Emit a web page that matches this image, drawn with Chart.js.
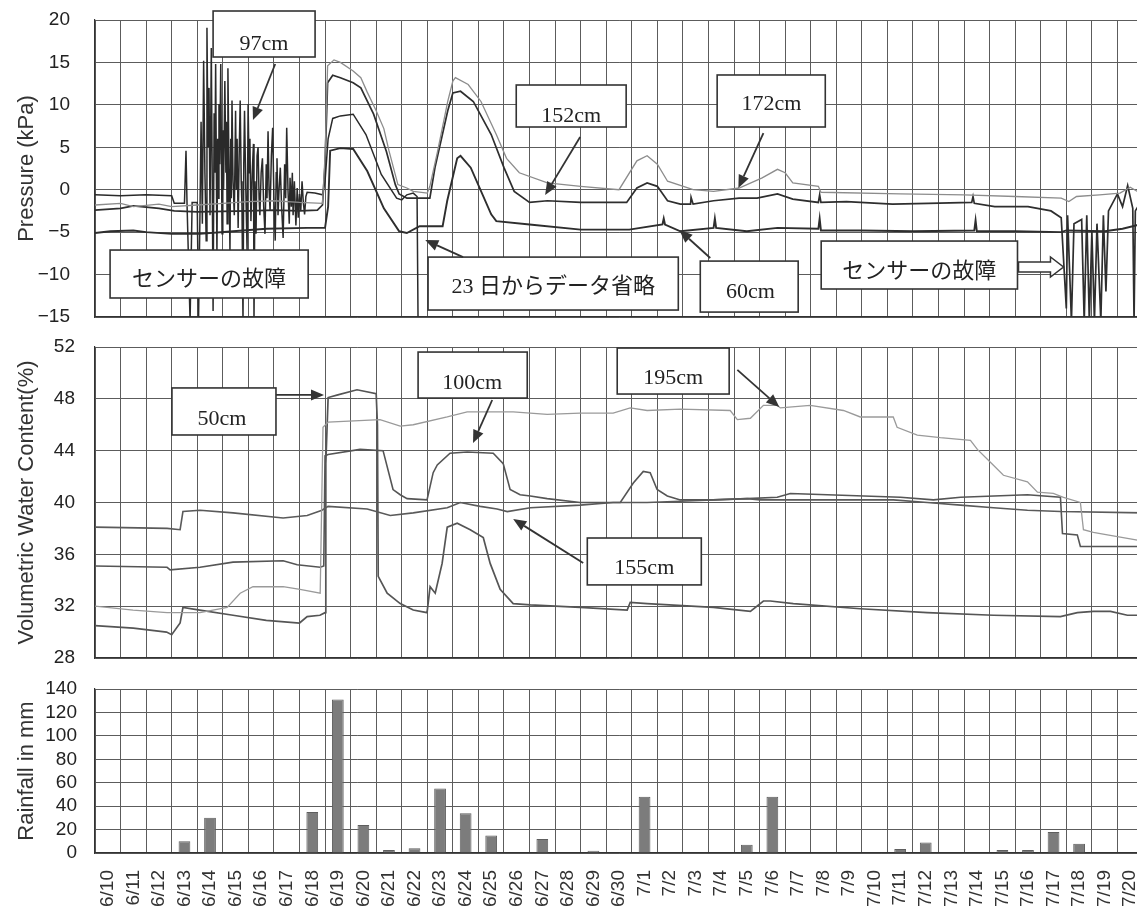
<!DOCTYPE html>
<html>
<head>
<meta charset="utf-8">
<script src="https://cdn.jsdelivr.net/npm/chart.js@4.4.1/dist/chart.umd.min.js"></script>
<style>
html, body { margin: 0; padding: 0; background: #fff; overflow: hidden; }
#wrap { position: relative; width: 1137px; height: 918px; overflow: hidden; background: #fff; }
canvas { position: absolute; left: 0; }
</style>
</head>
<body>
<div id="wrap">
  <canvas id="pressure" width="1143" height="330" style="top:0px"></canvas>
  <canvas id="water" width="1143" height="340" style="top:330px"></canvas>
  <canvas id="rain" width="1143" height="248" style="top:670px"></canvas>
</div>
<script>
// 日付 (6/10 ～ 7/20)
const days = ["6/10", "6/11", "6/12", "6/13", "6/14", "6/15", "6/16", "6/17", "6/18", "6/19",
    "6/20", "6/21", "6/22", "6/23", "6/24", "6/25", "6/26", "6/27", "6/28", "6/29", "6/30",
    "7/1", "7/2", "7/3", "7/4", "7/5", "7/6", "7/7", "7/8", "7/9", "7/10",
    "7/11", "7/12", "7/13", "7/14", "7/15", "7/16", "7/17", "7/18", "7/19", "7/20"];

// 日雨量 (mm)
const rainfall = [0, 0, 0, 10, 30, 0, 0, 0, 35, 131, 24, 2.5, 4, 55, 34, 15, 0, 12, 0, 2, 0,
    48, 0, 0, 0, 7, 48, 0, 0, 0, 0, 3.5, 9, 0, 0, 2.5, 2.5, 18, 8, 0, 0];

// 目盛
const pressureTicks = [-15, -10, -5, 0, 5, 10, 15, 20];
const waterTicks = [28, 32, 36, 40, 44, 48, 52];
const rainTicks = [0, 20, 40, 60, 80, 100, 120, 140];

// 間隙水圧 (kPa)  [6/10 からの日数, 値]
const p172 = [[0, -1.8], [1, -1.6], [1.5, -2.0], [2.5, -1.7], [3, -2.0], [4, -1.8], [5, -1.6], [6, -1.4],
    [7, -1.3], [8, -1.5], [8.9, -1.6], [9.0, 4], [9.1, 14.6], [9.35, 15.3], [9.6, 15.0], [10.1, 14.0],
    [10.4, 13.2], [10.65, 11.5], [11.0, 9.3], [11.3, 7.2], [11.5, 4.6], [11.85, 0.6], [12.2, 0.2],
    [12.45, -0.2], [13.0, -0.4], [13.1, 0.4], [13.4, 4.5], [13.8, 10.4], [14.0, 12.8], [14.1, 13.2],
    [14.6, 12.4], [15.1, 10.4], [15.7, 6.5], [16.1, 3.7], [16.6, 2.0], [17.7, 0.8], [19.0, 0.4],
    [20.5, 0.0], [21.2, 3.4], [21.6, 4.0], [22.0, 3.0], [22.4, 1.0], [23.4, 0.0], [24.2, -0.2],
    [25.2, 0.2], [26.1, 1.4], [26.7, 2.4], [27.0, 2.0], [27.3, 0.8], [28.3, 0.4], [28.4, -0.3],
    [31.5, -0.5], [34, -0.6], [36, -0.8], [37.8, -1.0], [38.1, -1.4], [38.4, -0.8], [39.3, -0.6],
    [40.1, -0.4], [40.5, 0.3], [41, -0.6]];

const p152 = [[0, -2.4], [1, -2.2], [1.5, -1.9], [2.5, -2.2], [3.1, -2.5], [4, -2.6], [6, -2.5], [7, -2.4],
    [8, -2.5], [8.7, -2.4], [8.9, -1.8], [9.0, 3], [9.1, 12.6], [9.3, 13.5], [9.6, 13.2], [10.1, 12.6],
    [10.4, 12.0], [10.9, 8.9], [11.4, 4.5], [11.75, 0.6], [11.9, -0.5], [12.2, -1.0], [12.6, -1.0],
    [13.1, -1.0], [13.3, 2.6], [13.8, 9.3], [14.0, 11.4], [14.3, 11.6], [14.8, 10.4], [15.5, 6.5],
    [16.0, 2.6], [16.4, -0.2], [17.0, -1.5], [17.7, -1.3], [19.0, -1.5], [20.8, -1.5], [21.2, 0.2],
    [21.6, 0.8], [22.0, 0.4], [22.4, -1.3], [22.9, -1.7], [23.3, -1.7], [23.32, -0.9], [23.4, -1.7],
    [24.2, -1.3], [25.2, -1.0], [25.9, -1.0], [26.7, -0.5], [27.3, -1.1], [28.3, -1.5], [28.35, -0.6],
    [28.4, -1.5], [29.4, -1.4], [31.2, -1.7], [32.6, -1.6], [34.3, -1.5], [34.35, -0.8], [34.4, -1.6],
    [35.2, -2.0], [36.5, -2.0], [37.4, -2.5], [37.8, -3.3], [38.0, -14], [38.05, -3], [38.2, -15.5],
    [38.3, -4], [38.6, -3.5], [38.7, -15.5], [38.8, -3], [38.9, -15.5], [39.0, -5], [39.1, -15.5],
    [39.2, -4], [39.35, -15.5], [39.45, -3], [39.55, -12], [39.65, -2.5], [40.0, -0.5], [40.2, -2],
    [40.4, 0.5], [40.6, -2.2], [40.65, -15.5], [40.7, -2.5], [40.8, -2.0], [41, -1.8]];

const p97 = [[0, -0.6], [1, -0.7], [2, -0.6], [3.0, -0.7], [3.1, -1.6], [3.5, -1.6], [3.56, 4.6], [3.6, -1.6],
    [3.72, -15.5], [3.8, -1.5], [4.0, -1.5], [4.05, -15.5], [4.11, -2], [4.15, 8], [4.2, -4], [4.25, 15.2],
    [4.3, 2], [4.35, -6.0], [4.38, 19.1], [4.42, 5], [4.46, 12], [4.5, -3], [4.55, 16.7], [4.58, 4],
    [4.62, -14.3], [4.66, 9], [4.69, 2], [4.72, 14.8], [4.77, -7.6], [4.8, 6], [4.83, -1], [4.85, 10.1],
    [4.88, 3], [4.92, 14.8], [4.97, -5.2], [5.0, 7], [5.03, 0], [5.08, 12.8], [5.12, 2], [5.14, 8],
    [5.17, -4], [5.2, 14.3], [5.24, 3], [5.28, -7.2], [5.31, 6], [5.33, -1], [5.36, 10.5], [5.4, 1],
    [5.45, -3], [5.5, 9.3], [5.53, 0], [5.56, 6], [5.6, -4.5], [5.64, 4], [5.68, 10.5], [5.72, 1],
    [5.75, -2], [5.79, -15.5], [5.82, 3], [5.85, 9.3], [5.9, 0], [5.95, -7.2], [5.99, 10.1], [6.03, 2],
    [6.06, 6], [6.1, -3.7], [6.15, 2], [6.2, 5.4], [6.22, -15.5], [6.26, 1], [6.3, -5.2], [6.34, 4],
    [6.38, 5], [6.42, -1], [6.45, -3], [6.5, 2], [6.55, 3.7], [6.6, -2], [6.65, -5.2], [6.7, 3],
    [6.73, -1], [6.77, 6.9], [6.81, 0], [6.85, -2.5], [6.9, 4], [6.95, 7.3], [7.0, -1], [7.05, -6.0],
    [7.09, 2], [7.12, 3.7], [7.16, -3], [7.2, 0], [7.25, 2.6], [7.3, -2], [7.36, -5.7], [7.42, 3],
    [7.46, -1], [7.5, 7.3], [7.55, 0], [7.6, -4], [7.63, 1.4], [7.68, -2], [7.72, 2], [7.75, -3],
    [7.8, 1], [7.86, -4.2], [7.91, 0.2], [7.95, -3.3], [8.0, -0.5], [8.05, -2.5], [8.1, 1.0],
    [8.15, -1.5], [8.2, -2.9], [8.25, -0.8], [8.3, -0.3], [8.6, -0.4], [8.9, -0.6], [9.0, 1],
    [9.12, 6], [9.3, 8.4], [9.6, 8.7], [10.1, 8.9], [10.6, 6.5], [11.2, 1.8], [11.8, -1.0], [12.0, -1.2],
    [12.2, -0.6], [12.45, -0.4], [12.6, -0.8], [12.64, -16]];

const p60 = [[0, -5.1], [0.6, -4.9], [1.5, -4.8], [2, -5.0], [3.0, -5.2], [4.1, -5.2], [5.4, -4.9], [6.7, -4.6],
    [8.3, -4.5], [9.0, -4.5], [9.12, -2], [9.2, 4.6], [9.6, 4.9], [10.1, 4.8], [10.65, 2.2], [11.3, -2.2],
    [11.9, -4.9], [12.2, -5.1], [12.7, -4.3], [13.6, -4.3], [13.78, -1.3], [14.17, 3.7], [14.3, 4.0],
    [14.7, 2.6], [15.5, -2.9], [15.7, -3.7], [17.0, -4.1], [19.0, -4.7], [20.9, -4.7], [22.2, -4.1],
    [22.25, -3.4], [22.3, -4.1], [22.9, -4.9], [24.2, -4.5], [24.25, -3.4], [24.3, -4.5], [25.5, -4.9],
    [26.7, -4.5], [28.3, -4.6], [28.35, -3.4], [28.4, -4.8], [30, -4.8], [32, -4.9], [34.4, -4.8],
    [34.45, -3.6], [34.5, -4.9], [36, -4.9], [37.8, -5.0], [38.0, -4.8], [39.5, -4.9], [40.2, -4.6],
    [41, -4.0]];

// 体積含水率 (%)
const w50 = [[0, 30.5], [1.5, 30.3], [2.8, 30.0], [3.0, 29.8], [3.33, 30.7], [3.44, 31.9], [4.1, 31.7],
    [5.4, 31.3], [6.7, 30.9], [8.0, 30.7], [8.3, 31.2], [8.8, 31.3], [9.0, 31.5], [9.03, 43.0],
    [9.12, 48.1], [9.5, 48.3], [10.25, 48.7], [11.0, 48.4], [11.05, 46], [11.08, 34.3], [11.43, 33.0],
    [11.94, 32.2], [12.45, 31.7], [12.99, 31.5], [13.11, 33.5], [13.31, 33.0], [13.58, 35.3],
    [13.78, 38.1], [14.17, 38.4], [14.68, 37.9], [15.19, 37.3], [15.46, 35.3], [15.85, 33.3],
    [16.36, 32.2], [17.03, 32.1], [18.98, 31.9], [20.82, 31.7], [20.94, 32.3], [21.6, 32.2],
    [24.19, 31.9], [25.64, 31.6], [26.15, 32.4], [26.42, 32.4], [27.32, 32.2], [29.94, 31.8],
    [32.56, 31.5], [35.15, 31.3], [37.77, 31.2], [38.43, 31.5], [39.06, 31.6], [39.73, 31.6],
    [40.39, 31.3], [41, 31.3]];

const w100 = [[0, 35.1], [2.82, 35.0], [2.94, 34.8], [4.11, 35.0], [5.4, 35.4], [7.36, 35.5], [7.91, 35.2],
    [8.81, 35.0], [8.95, 35.1], [9.0, 43.6], [9.12, 43.7], [10.37, 44.1], [11.27, 44.0], [11.66, 41.0],
    [11.94, 40.6], [12.21, 40.3], [12.99, 40.2], [13.23, 42.3], [13.39, 42.9], [13.89, 43.8],
    [14.56, 43.9], [15.58, 43.8], [15.97, 43.0], [16.24, 41.0], [16.63, 40.6], [17.03, 40.5],
    [17.69, 40.3], [18.98, 40.0], [20.55, 40.0], [21.06, 41.5], [21.45, 42.4], [21.72, 42.3],
    [21.99, 41.0], [22.39, 40.5], [22.9, 40.2], [24.19, 40.2], [25.52, 40.3], [26.69, 40.4],
    [27.2, 40.7], [28.65, 40.6], [31.51, 40.4], [32.8, 40.2], [33.86, 40.4], [36.48, 40.6],
    [37.77, 40.4], [37.85, 37.6], [38.43, 37.5], [38.55, 36.6], [41, 36.6]];

const w155 = [[0, 38.1], [2.82, 38.0], [3.33, 37.9], [3.44, 39.3], [4.11, 39.4], [5.4, 39.2], [7.36, 38.8],
    [8.3, 39.0], [8.88, 39.4], [9.12, 39.7], [10.65, 39.5], [11.55, 39.0], [12.45, 39.2], [13.78, 39.6],
    [14.29, 40.0], [15.07, 39.7], [15.73, 39.5], [16.13, 39.3], [17.03, 39.6], [18.98, 39.8],
    [20.27, 40.0], [21.6, 40.0], [22.9, 40.1], [24.19, 40.2], [25.52, 40.3], [26.03, 40.2],
    [28.65, 40.2], [31.23, 40.2], [32.56, 40.0], [33.86, 39.8], [35.15, 39.6], [36.48, 39.4],
    [37.77, 39.3], [41, 39.2]];

const w195 = [[0, 32.0], [1.49, 31.7], [2.82, 31.5], [4.11, 31.5], [5.17, 31.9], [5.68, 33.0], [6.18, 33.5],
    [7.36, 33.5], [8.02, 33.3], [8.81, 33.0], [8.92, 45.8], [9.12, 46.2], [11.15, 46.4], [11.94, 45.9],
    [12.45, 46.0], [13.78, 46.6], [14.56, 47.0], [16.36, 47.0], [17.69, 46.8], [18.98, 46.9],
    [20.27, 46.9], [20.94, 47.3], [21.6, 47.1], [22.9, 47.2], [24.85, 47.1], [25.13, 46.4],
    [25.64, 46.5], [26.15, 47.5], [26.69, 47.5], [26.81, 47.3], [27.98, 47.5], [29.28, 47.1],
    [29.94, 46.6], [31.23, 46.6], [31.38, 45.8], [32.17, 45.2], [33.07, 45.0], [34.25, 44.8],
    [34.52, 44.1], [35.03, 43.1], [35.54, 42.1], [36.48, 41.6], [36.87, 40.8], [37.49, 40.7],
    [37.89, 40.4], [38.55, 40.0], [38.67, 37.9], [39.06, 37.7], [39.33, 37.6], [40.78, 37.1],
    [41, 37.0]];

const toXY = (arr) => arr.map((p) => ({ x: p[0], y: p[1] }));

// 注記 (ボックス・矢印) を描くプラグイン
const notesPlugin = {
    id: "notes",
    afterDatasetsDraw(chart, args, opts) {
        const ctx = chart.ctx;
        const X = (v) => chart.scales.x.getPixelForValue(v);
        const Y = (v) => chart.scales.y.getPixelForValue(v);
        ctx.save();
        (opts.items || []).forEach((n) => {
            const x1 = X(n.box[0]), y1 = Y(n.box[1]), x2 = X(n.box[2]), y2 = Y(n.box[3]);
            ctx.fillStyle = "#fff";
            ctx.fillRect(x1, y1, x2 - x1, y2 - y1);
            ctx.strokeStyle = "#333";
            ctx.lineWidth = 1.6;
            ctx.strokeRect(x1, y1, x2 - x1, y2 - y1);
            ctx.fillStyle = "#222";
            ctx.font = '22px "Liberation Serif", "Noto Sans CJK JP", serif';
            ctx.textAlign = "center";
            ctx.textBaseline = "middle";
            ctx.fillText(n.text, X(n.at[0]), Y(n.at[1]));

            if (n.arrow) {
                const ax = X(n.arrow[0]), ay = Y(n.arrow[1]), bx = X(n.arrow[2]), by = Y(n.arrow[3]);
                const ang = Math.atan2(by - ay, bx - ax);
                const hl = 13, hw = 5.5;
                const hx = bx - hl * Math.cos(ang), hy = by - hl * Math.sin(ang);
                ctx.strokeStyle = "#333";
                ctx.lineWidth = 1.8;
                ctx.beginPath();
                ctx.moveTo(ax, ay);
                ctx.lineTo(hx, hy);
                ctx.stroke();
                ctx.fillStyle = "#333";
                ctx.beginPath();
                ctx.moveTo(bx, by);
                ctx.lineTo(hx + hw * Math.sin(ang), hy - hw * Math.cos(ang));
                ctx.lineTo(hx - hw * Math.sin(ang), hy + hw * Math.cos(ang));
                ctx.closePath();
                ctx.fill();
            }

            if (n.hollow) {
                const sx = X(n.hollow[0]), hx = X(n.hollow[1]), ex = X(n.hollow[2]), cy = Y(n.hollow[3]);
                ctx.fillStyle = "#fff";
                ctx.strokeStyle = "#333";
                ctx.lineWidth = 1.5;
                ctx.beginPath();
                ctx.moveTo(sx, cy - 5);
                ctx.lineTo(hx, cy - 5);
                ctx.lineTo(hx, cy - 10);
                ctx.lineTo(ex, cy);
                ctx.lineTo(hx, cy + 10);
                ctx.lineTo(hx, cy + 5);
                ctx.lineTo(sx, cy + 5);
                ctx.closePath();
                ctx.fill();
                ctx.stroke();
            }
        });
        ctx.restore();
    },
};

const gridColor = "#5c5c5c";
const tickFont = { family: '"Liberation Sans", Arial, sans-serif', size: 19 };
const titleFont = { family: '"Liberation Sans", Arial, sans-serif', size: 22 };

// 軸の余白を固定する (ラベル分の自動パディングを消す)
function fixY(s) {
    s.width = 95;
    s.paddingTop = 0;
    s.paddingBottom = 0;
}

function lineDataset(label, data, color, width) {
    return {
        label: label,
        data: toXY(data),
        borderColor: color,
        borderWidth: width,
        pointRadius: 0,
        tension: 0,
        fill: false,
    };
}

function lineOptions(ticks, title, tickPad, padding, notes, fmt) {
    return {
        responsive: false,
        animation: false,
        layout: { padding: padding },
        plugins: { legend: { display: false }, tooltip: { enabled: false }, notes: { items: notes } },
        scales: {
            x: {
                type: "linear",
                min: 0,
                max: 41,
                ticks: { display: false, stepSize: 1 },
                grid: { color: gridColor, lineWidth: 1, drawTicks: false },
                border: { display: true, color: "#333", width: 1.2 },
                afterFit: (s) => { s.height = 0; s.paddingLeft = 0; s.paddingRight = 0; },
            },
            y: {
                min: ticks[0],
                max: ticks[ticks.length - 1],
                afterBuildTicks: (s) => { s.ticks = ticks.map((v) => ({ value: v })); },
                ticks: {
                    color: "#222",
                    font: tickFont,
                    padding: tickPad,
                    autoSkip: false,
                    callback: fmt,
                },
                grid: { color: gridColor, lineWidth: 1, drawTicks: false },
                border: { display: true, color: "#333", width: 1.2 },
                title: { display: true, text: title, color: "#333", font: titleFont, padding: { top: 14, bottom: 0 } },
                afterFit: fixY,
            },
        },
    };
}

window.addEventListener("DOMContentLoaded", () => {
    // 間隙水圧
    new Chart(document.getElementById("pressure"), {
        type: "line",
        data: {
            datasets: [
                lineDataset("172cm", p172, "#8c8c8c", 1.3),
                lineDataset("152cm", p152, "#2e2e2e", 1.7),
                lineDataset("97cm", p97, "#2a2a2a", 1.5),
                lineDataset("60cm", p60, "#2e2e2e", 1.9),
            ],
        },
        options: lineOptions(pressureTicks, "Pressure (kPa)", 25, { top: 20, right: 0, bottom: 13, left: 0 }, [
            { box: [4.62, 21.06, 8.61, 15.64], text: "97cm", at: [6.61, 17.17], arrow: [7.05, 14.81, 6.18, 8.21] },
            { box: [0.59, -7.11, 8.34, -12.76], text: "センサーの故障", at: [4.46, -10.64] },
            { box: [16.48, 12.34, 20.78, 7.39], text: "152cm", at: [18.63, 8.68], arrow: [18.98, 6.21, 17.61, -0.62] },
            { box: [24.34, 13.52, 28.57, 7.39], text: "172cm", at: [26.46, 10.1], arrow: [26.15, 6.68, 25.17, 0.2] },
            { box: [13.03, -7.94, 22.82, -14.18], text: "23 日からデータ省略", at: [17.93, -11.47], arrow: [14.4, -7.94, 12.92, -5.93] },
            { box: [23.68, -8.41, 27.51, -14.42], text: "60cm", at: [25.64, -12.06], arrow: [24.07, -8.05, 22.86, -4.75] },
            { box: [28.41, -6.05, 36.09, -11.7], text: "センサーの故障", at: [32.25, -9.7], hollow: [36.13, 37.38, 37.89, -9.11] },
        ], (v) => (v < 0 ? "\u2212" + Math.abs(v) : String(v))),
        plugins: [notesPlugin],
    });

    // 体積含水率
    new Chart(document.getElementById("water"), {
        type: "line",
        data: {
            datasets: [
                lineDataset("195cm", w195, "#9a9a9a", 1.3),
                lineDataset("155cm", w155, "#5a5a5a", 1.6),
                lineDataset("100cm", w100, "#555555", 1.6),
                lineDataset("50cm", w50, "#555555", 1.7),
            ],
        },
        options: lineOptions(waterTicks, "Volumetric Water Content(%)", 20, { top: 17, right: 0, bottom: 12, left: 0 }, [
            { box: [3.01, 48.84, 7.08, 45.21], text: "50cm", at: [4.97, 46.44], arrow: [7.08, 48.3, 8.96, 48.3] },
            { box: [12.64, 51.61, 16.91, 48.06], text: "100cm", at: [14.76, 49.22], arrow: [15.54, 47.91, 14.79, 44.59] },
            { box: [20.43, 51.92, 24.81, 48.37], text: "195cm", at: [22.62, 49.61], arrow: [25.13, 50.23, 26.77, 47.37] },
            { box: [19.26, 37.26, 23.72, 33.64], text: "155cm", at: [21.49, 34.95], arrow: [19.1, 35.33, 16.36, 38.73] },
        ], (v) => String(v)),
        plugins: [notesPlugin],
    });

    // 雨量
    new Chart(document.getElementById("rain"), {
        type: "bar",
        data: {
            labels: days,
            datasets: [{
                label: "Rainfall",
                data: rainfall,
                backgroundColor: "#7c7c7c",
                borderColor: "#5e5e5e",
                borderWidth: 1,
                barPercentage: 0.46,
                categoryPercentage: 1,
            }],
        },
        options: {
            responsive: false,
            animation: false,
            layout: { padding: { top: 19, right: 0, bottom: 0, left: 0 } },
            plugins: { legend: { display: false }, tooltip: { enabled: false } },
            scales: {
                x: {
                    ticks: { color: "#333", font: tickFont, minRotation: 90, maxRotation: 90, autoSkip: false, padding: 17 },
                    grid: { color: gridColor, lineWidth: 1, drawTicks: false, offset: true },
                    border: { display: true, color: "#333", width: 1.2 },
                    afterFit: (s) => { s.height = 65; s.paddingLeft = 0; s.paddingRight = 0; },
                },
                y: {
                    min: 0,
                    max: 140,
                    afterBuildTicks: (s) => { s.ticks = rainTicks.map((v) => ({ value: v })); },
                    ticks: { color: "#222", font: tickFont, padding: 18, autoSkip: false },
                    grid: { color: gridColor, lineWidth: 1, drawTicks: false },
                    border: { display: true, color: "#333", width: 1.2 },
                    title: { display: true, text: "Rainfall in mm", color: "#333", font: titleFont, padding: { top: 14, bottom: 0 } },
                    afterFit: fixY,
                },
            },
        },
    });
});
</script>
</body>
</html>
